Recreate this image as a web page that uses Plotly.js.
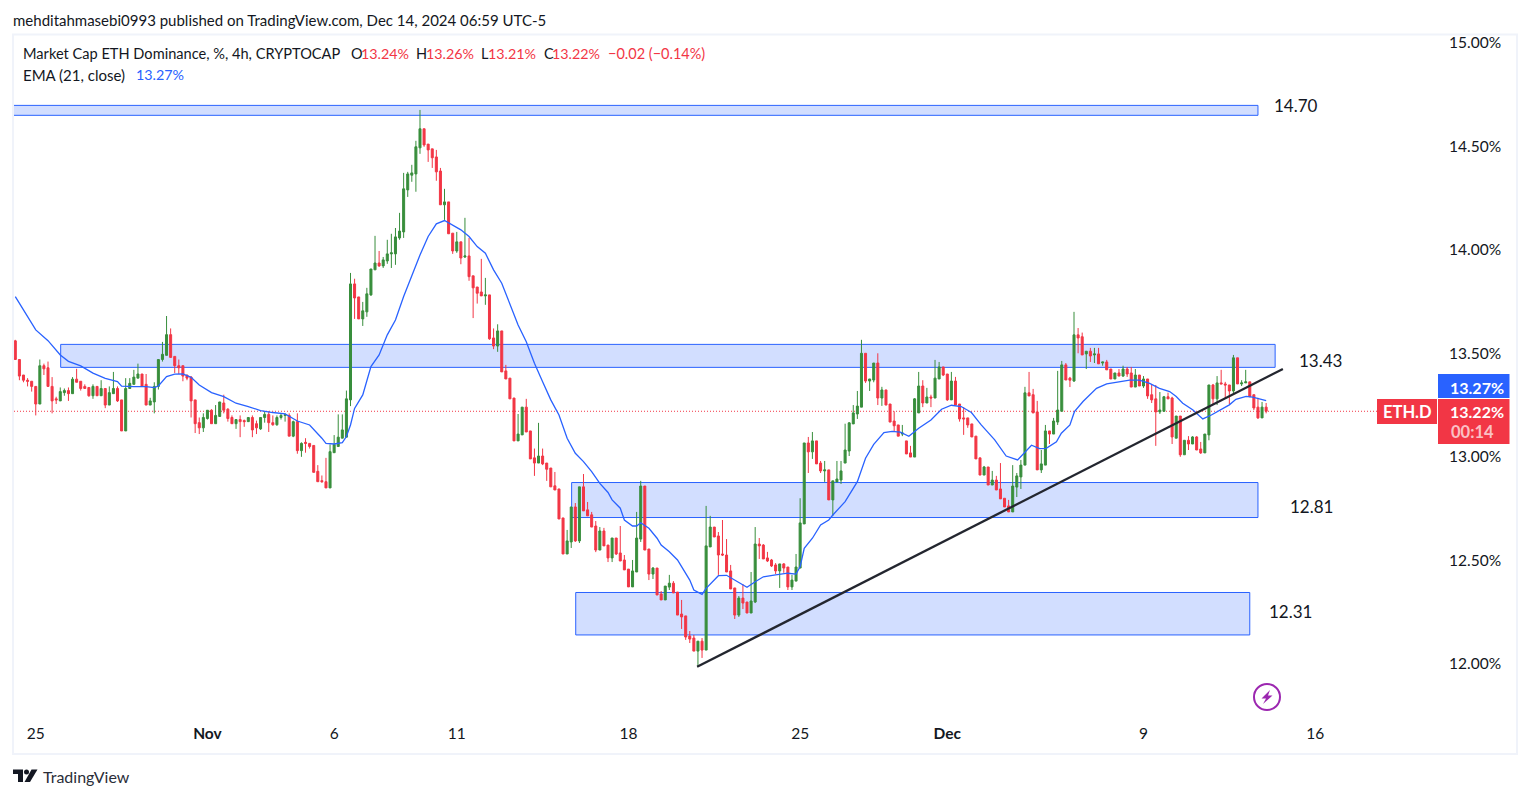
<!DOCTYPE html>
<html><head><meta charset="utf-8">
<script src="https://cdn.plot.ly/plotly-3.0.1.min.js"></script>
<style>html,body{margin:0;padding:0;background:#fff;overflow:hidden}#c{width:1530px;height:798px}</style>
</head><body><div id="c"></div>
<script>
const opens=[13.56,13.47,13.395,13.37,13.365,13.34,13.255,13.44,13.43,13.34,
13.28,13.27,13.31,13.32,13.305,13.375,13.365,13.34,13.335,13.295,
13.34,13.295,13.33,13.25,13.305,13.33,13.275,13.125,13.33,13.35,
13.38,13.40,13.35,13.25,13.265,13.34,13.47,13.49,13.59,13.485,
13.44,13.44,13.395,13.385,13.275,13.165,13.14,13.185,13.225,13.16,
13.195,13.26,13.23,13.19,13.16,13.18,13.175,13.17,13.19,13.16,
13.135,13.19,13.205,13.165,13.155,13.19,13.20,13.20,13.10,13.17,
13.03,13.07,13.065,13.055,12.93,12.885,12.88,12.85,13.02,13.05,
13.09,13.095,13.275,13.835,13.772,13.666,13.70,13.782,13.903,13.936,
13.922,13.946,13.98,13.98,14.057,14.086,14.289,14.36,14.366,14.492,
14.584,14.51,14.487,14.448,14.38,14.217,14.231,14.08,13.994,14.038,
13.965,13.97,13.874,13.82,13.796,13.777,13.782,13.574,13.535,13.608,
13.415,13.38,13.284,13.077,13.106,13.24,13.125,12.995,12.97,13.004,
12.97,12.946,12.86,12.845,12.705,12.531,12.589,12.758,12.594,12.855,
12.744,12.72,12.666,12.55,12.642,12.574,12.512,12.608,12.536,12.502,
12.458,12.372,12.444,12.603,12.859,12.555,12.434,12.463,12.338,12.309,
12.371,12.39,12.347,12.241,12.232,12.135,12.125,12.062,12.11,12.067,
12.565,12.661,12.618,12.531,12.526,12.449,12.367,12.236,12.318,12.299,
12.246,12.299,12.579,12.574,12.512,12.502,12.478,12.449,12.483,12.468,
12.372,12.40,12.463,12.676,13.067,13.024,13.077,12.97,12.932,12.937,
12.792,12.879,12.888,12.97,13.028,13.159,13.207,13.24,13.50,13.366,
13.371,13.453,13.284,13.323,13.255,13.173,13.154,13.11,13.077,13.019,
12.999,13.212,13.342,13.26,13.289,13.284,13.376,13.434,13.40,13.275,
13.366,13.255,13.188,13.188,13.159,13.10,12.995,12.912,12.951,12.864,
12.888,12.845,12.80,12.763,12.734,12.854,12.903,12.96,13.309,13.30,
13.217,12.937,12.96,13.125,13.11,13.168,13.22,13.444,13.38,13.366,
13.589,13.58,13.497,13.51,13.492,13.497,13.453,13.458,13.424,13.376,
13.405,13.39,13.424,13.405,13.337,13.395,13.342,13.376,13.30,13.28,
13.217,13.22,13.29,13.284,13.09,13.197,13.01,13.08,13.062,13.096,
13.038,13.019,13.106,13.347,13.28,13.357,13.352,13.347,13.318,13.478,
13.352,13.357,13.362,13.30,13.24,13.188,13.24];
const highs=[13.565,13.47,13.395,13.38,13.365,13.34,13.47,13.45,13.46,13.385,
13.29,13.335,13.33,13.335,13.385,13.425,13.365,13.35,13.335,13.35,
13.34,13.37,13.33,13.34,13.41,13.34,13.275,13.38,13.38,13.42,
13.45,13.40,13.40,13.285,13.36,13.47,13.555,13.68,13.62,13.485,
13.47,13.44,13.395,13.39,13.275,13.19,13.21,13.225,13.23,13.25,
13.265,13.30,13.235,13.20,13.18,13.20,13.18,13.19,13.20,13.175,
13.19,13.22,13.22,13.20,13.20,13.21,13.21,13.21,13.175,13.21,
13.07,13.09,13.065,13.055,12.96,12.91,12.995,13.06,13.105,13.205,
13.205,13.32,13.888,13.86,13.772,13.748,13.816,13.907,14.067,13.994,
13.965,14.048,14.077,14.105,14.178,14.371,14.376,14.41,14.526,14.675,
14.584,14.51,14.487,14.482,14.395,14.294,14.231,14.08,14.086,14.038,
14.154,14.057,13.874,13.82,13.956,13.864,13.782,13.62,13.64,13.608,
13.444,13.38,13.284,13.207,13.24,13.28,13.125,13.04,13.164,13.04,
12.97,12.946,12.927,12.845,12.705,12.647,12.758,12.777,12.855,12.917,
12.782,12.734,12.69,12.661,12.657,12.574,12.608,12.608,12.666,12.526,
12.458,12.502,12.734,12.884,12.859,12.555,12.468,12.463,12.352,12.376,
12.43,12.40,12.347,12.309,12.232,12.159,12.14,12.11,12.125,12.763,
12.715,12.661,12.637,12.695,12.603,12.478,12.367,12.328,12.386,12.299,
12.444,12.661,12.608,12.579,12.541,12.507,12.487,12.483,12.487,12.468,
12.43,12.531,12.80,13.067,13.096,13.12,13.077,12.98,12.98,12.937,
12.884,12.98,12.98,13.16,13.168,13.25,13.318,13.565,13.50,13.376,
13.453,13.50,13.338,13.323,13.255,13.22,13.154,13.154,13.077,13.053,
13.284,13.41,13.37,13.333,13.30,13.468,13.458,13.434,13.40,13.41,
13.386,13.255,13.24,13.188,13.159,13.10,12.995,12.956,12.951,12.932,
12.908,12.97,12.80,12.792,12.96,12.922,12.985,13.338,13.41,13.328,
13.27,13.033,13.154,13.125,13.188,13.415,13.463,13.453,13.386,13.70,
13.622,13.60,13.51,13.526,13.526,13.526,13.458,13.468,13.424,13.405,
13.424,13.44,13.434,13.434,13.424,13.395,13.39,13.376,13.352,13.347,
13.313,13.294,13.31,13.29,13.197,13.197,13.08,13.10,13.10,13.10,
13.072,13.11,13.347,13.352,13.39,13.42,13.362,13.347,13.492,13.478,
13.37,13.42,13.362,13.30,13.285,13.265,13.26];
const lows=[13.47,13.37,13.36,13.34,13.315,13.20,13.255,13.395,13.34,13.21,
13.255,13.27,13.295,13.27,13.305,13.36,13.32,13.33,13.29,13.28,
13.295,13.295,13.235,13.25,13.305,13.265,13.125,13.125,13.33,13.35,
13.38,13.34,13.25,13.25,13.21,13.325,13.46,13.49,13.48,13.405,
13.40,13.365,13.37,13.19,13.115,13.11,13.12,13.18,13.16,13.16,
13.195,13.21,13.17,13.16,13.135,13.095,13.145,13.17,13.095,13.11,
13.13,13.165,13.12,13.15,13.15,13.18,13.17,13.10,13.095,13.015,
13.00,13.02,13.04,12.925,12.88,12.875,12.85,12.85,13.02,13.05,
13.09,13.095,13.245,13.666,13.666,13.632,13.676,13.777,13.903,13.917,
13.912,13.932,13.912,13.927,14.048,14.057,14.255,14.328,14.28,14.463,
14.497,14.424,14.395,14.333,14.217,14.144,14.077,13.98,13.985,13.93,
13.96,13.85,13.67,13.74,13.777,13.734,13.565,13.52,13.507,13.41,
13.376,13.28,13.077,13.077,13.106,13.12,12.99,12.908,12.97,12.96,
12.884,12.855,12.84,12.70,12.531,12.531,12.56,12.589,12.584,12.739,
12.715,12.661,12.54,12.55,12.57,12.492,12.492,12.526,12.497,12.454,
12.372,12.372,12.444,12.589,12.55,12.405,12.41,12.333,12.309,12.309,
12.357,12.343,12.236,12.169,12.116,12.101,12.062,11.985,12.029,12.067,
12.565,12.613,12.43,12.521,12.444,12.362,12.217,12.227,12.265,12.246,
12.246,12.294,12.507,12.507,12.492,12.468,12.434,12.367,12.44,12.357,
12.357,12.40,12.463,12.676,12.922,12.99,12.966,12.922,12.879,12.792,
12.714,12.879,12.869,12.97,13.004,13.159,13.183,13.24,13.357,13.318,
13.36,13.25,13.246,13.25,13.168,13.12,13.10,13.10,13.014,12.999,
12.999,13.212,13.24,13.26,13.24,13.284,13.376,13.39,13.27,13.275,
13.25,13.17,13.106,13.14,13.096,12.99,12.912,12.912,12.864,12.864,
12.84,12.797,12.758,12.734,12.734,12.806,12.845,12.96,13.294,13.212,
12.937,12.922,12.96,13.062,13.11,13.154,13.22,13.371,13.337,13.362,
13.50,13.492,13.424,13.458,13.453,13.449,13.44,13.42,13.376,13.376,
13.39,13.386,13.386,13.337,13.337,13.342,13.333,13.28,13.26,13.053,
13.207,13.217,13.28,13.062,13.09,13.0,13.01,13.033,13.062,13.033,
13.014,13.019,13.08,13.255,13.25,13.352,13.28,13.255,13.30,13.352,
13.342,13.357,13.29,13.226,13.183,13.188,13.21];
const closes=[13.47,13.39,13.37,13.365,13.34,13.255,13.44,13.425,13.34,13.27,
13.275,13.315,13.32,13.305,13.375,13.36,13.33,13.33,13.295,13.34,
13.295,13.33,13.25,13.31,13.33,13.27,13.125,13.33,13.355,13.385,
13.40,13.34,13.25,13.27,13.34,13.47,13.495,13.59,13.48,13.44,
13.43,13.39,13.38,13.27,13.16,13.14,13.19,13.225,13.16,13.20,
13.265,13.225,13.185,13.16,13.18,13.17,13.17,13.19,13.13,13.14,
13.19,13.205,13.165,13.155,13.19,13.20,13.203,13.10,13.17,13.03,
13.065,13.065,13.05,12.925,12.88,12.88,12.85,13.025,13.06,13.095,
13.13,13.28,13.835,13.767,13.666,13.705,13.787,13.907,13.936,13.922,
13.951,13.98,13.985,14.062,14.09,14.294,14.366,14.371,14.497,14.584,
14.506,14.482,14.444,14.376,14.217,14.231,14.077,13.994,14.038,13.96,
13.97,13.87,13.816,13.79,13.777,13.782,13.57,13.535,13.608,13.41,
13.376,13.28,13.077,13.11,13.24,13.12,12.99,12.97,13.004,12.966,
12.94,12.855,12.84,12.70,12.531,12.594,12.758,12.594,12.855,12.739,
12.715,12.661,12.55,12.642,12.57,12.512,12.608,12.531,12.497,12.454,
12.372,12.449,12.608,12.859,12.55,12.434,12.463,12.333,12.309,12.376,
12.39,12.343,12.236,12.227,12.13,12.12,12.062,12.11,12.067,12.57,
12.661,12.613,12.526,12.526,12.444,12.362,12.236,12.318,12.294,12.246,
12.304,12.579,12.57,12.507,12.497,12.473,12.449,12.483,12.463,12.372,
12.405,12.468,12.681,13.067,13.024,13.077,12.966,12.932,12.937,12.792,
12.884,12.893,12.932,13.033,13.164,13.212,13.245,13.50,13.366,13.376,
13.453,13.284,13.323,13.25,13.168,13.15,13.10,13.115,13.014,12.999,
13.28,13.342,13.26,13.289,13.284,13.38,13.434,13.395,13.275,13.366,
13.25,13.183,13.183,13.154,13.096,12.99,12.912,12.951,12.864,12.888,
12.84,12.797,12.758,12.734,12.859,12.908,12.96,13.309,13.294,13.212,
12.937,12.966,13.125,13.11,13.173,13.226,13.444,13.371,13.37,13.589,
13.574,13.492,13.51,13.487,13.497,13.449,13.458,13.42,13.376,13.405,
13.39,13.424,13.40,13.337,13.395,13.342,13.376,13.294,13.275,13.217,
13.226,13.29,13.28,13.096,13.197,13.01,13.08,13.062,13.096,13.033,
13.019,13.11,13.347,13.28,13.357,13.352,13.347,13.318,13.478,13.352,
13.357,13.362,13.29,13.236,13.188,13.24,13.22];

const emaBars=[0,2,5,8,11,13,16,19,22,25,26,29,32,34,35,37,39,41,43,45,48,51,54,57,60,63,66,69,72,75,76,78,80,81,82,83,85,87,89,91,93,95,97,99,101,103,105,107,109,111,113,115,117,119,121,123,125,127,129,131,133,135,137,139,141,143,145,146,148,149,151,152,153,155,157,158,160,162,163,165,166,168,169,171,172,174,176,178,179,181,183,186,189,191,192,193,195,197,199,200,203,206,208,210,212.5,214.5,216.5,218.6,221,224,226.6,229,231.4,233.9,236.3,239.6,242.4,245.2,247,248.6,250.6,252.2,254.7,255.9,258,259.1,261.2,264.5,267,270.1,272.6,275,277.5,279.9,282.4,284,285.6,288.1,290.5,292.6,294.6,297,298.6,301.1,302.7,306];
const emaValues=[13.774,13.709,13.613,13.561,13.492,13.461,13.439,13.404,13.379,13.363,13.341,13.339,13.339,13.334,13.342,13.387,13.399,13.40,13.384,13.347,13.31,13.291,13.259,13.243,13.223,13.214,13.207,13.173,13.154,13.09,13.065,13.062,13.069,13.098,13.154,13.234,13.299,13.436,13.492,13.589,13.661,13.774,13.878,13.975,14.064,14.125,14.141,14.12,14.096,14.064,14.015,13.983,13.903,13.838,13.742,13.637,13.556,13.452,13.363,13.275,13.202,13.09,13.017,12.977,12.929,12.872,12.828,12.792,12.752,12.695,12.666,12.666,12.682,12.655,12.607,12.574,12.542,12.502,12.47,12.405,12.357,12.336,12.365,12.405,12.426,12.428,12.405,12.381,12.37,12.397,12.421,12.43,12.438,12.434,12.47,12.558,12.607,12.671,12.695,12.719,12.784,12.88,12.993,13.06,13.117,13.123,13.119,13.099,13.138,13.178,13.23,13.249,13.243,13.214,13.154,13.082,13.004,12.985,13.025,13.056,13.04,13.041,13.073,13.114,13.154,13.218,13.267,13.331,13.352,13.363,13.37,13.37,13.355,13.331,13.315,13.291,13.259,13.226,13.183,13.202,13.226,13.251,13.278,13.292,13.288,13.272];

const tickBars=[5,47,78,108,150,192,228,276,318];
const tickLabels=['25','<b>Nov</b>','6','11','18','25','<b>Dec</b>','9','16'];
const priceTicks=[12,12.5,13,13.5,14,14.5,15];
const priceLabels=['12.00%','12.50%','13.00%','13.50%','14.00%','14.50%','15.00%'];
const zoneBars=[[-1,304],[11.1,308.2],[136.1,304],[137.1,302]];
const zoneLevels=[[14.697,14.649],[13.543,13.432],[12.876,12.707],[12.345,12.14]];
const trendBars=[166.8,310.1];
const trendValues=[11.986,13.424];
const lastClose=13.22;

const L=14,R=1437,T=36,B=718;
const FONT='Lato, "Noto Sans", sans-serif';
const px=x=>(x-L)/(R-L), py=y=>(B-y)/(B-T);
const DARK='#131722',RED='#f23645',GREEN='#388e3c',BLUE='#2962ff';
const bars=opens.map((_,i)=>i);

function txt(x,y,text,o={}){return Object.assign({xref:'paper',yref:'paper',x:px(x),y:py(y),text,showarrow:false,xanchor:'left',yanchor:'middle',
  font:{family:FONT,size:14,color:DARK},borderpad:0},o);}
function rect(x0,y0,x1,y1,o={}){return Object.assign({type:'rect',xref:'paper',yref:'paper',x0:px(x0),x1:px(x1),y0:py(y0),y1:py(y1),line:{width:0},layer:'above'},o);}
function poly(pts,color){return {type:'path',xref:'paper',yref:'paper',layer:'above',fillcolor:color,line:{width:0},
  path:'M'+pts.map(p=>px(p[0])+','+py(p[1])).join(' L')+' Z'};}

const shapes=[
 rect(13,34.5,1517,754,{line:{color:'#f0f3fa',width:2},fillcolor:'rgba(0,0,0,0)',layer:'below'}),
 {type:'line',xref:'paper',yref:'y',x0:0,x1:1,y0:lastClose,y1:lastClose,line:{color:RED,width:1,dash:'1px,2px'},layer:'below'},
 ...zoneBars.map((b,i)=>({type:'rect',xref:'x',yref:'y',x0:b[0],x1:b[1],y0:zoneLevels[i][1],y1:zoneLevels[i][0],
   fillcolor:'rgba(41,98,255,0.21)',line:{color:BLUE,width:1},layer:'below'})),
 {type:'line',xref:'x',yref:'y',x0:trendBars[0],x1:trendBars[1],y0:trendValues[0],y1:trendValues[1],line:{color:'#23262f',width:2.3},layer:'above'},
 rect(1377,399,1437,424,{fillcolor:RED}),
 rect(1438,374,1509.5,398,{fillcolor:BLUE}),
 rect(1438,399,1509.5,444,{fillcolor:RED}),
 {type:'circle',xref:'paper',yref:'paper',x0:px(1254),x1:px(1280),y0:py(684),y1:py(710),line:{color:'#9c27b0',width:2},fillcolor:'rgba(0,0,0,0)',layer:'above'},
 poly([[1270,690],[1261.5,698.5],[1266,698.5],[1263,704],[1272.5,695.5],[1268,695.5]],'#9c27b0'),
 poly([[13,769.5],[23,769.5],[23,782],[18,782],[18,774],[13,774]],DARK),
 poly([[31.5,769.5],[37.5,769.5],[30,782],[24.5,782]],DARK),
 {type:'circle',xref:'paper',yref:'paper',x0:px(24),x1:px(29),y0:py(769.5),y1:py(774.5),fillcolor:DARK,line:{width:0},layer:'above'}
];

const annotations=[
 txt(12,20,'mehditahmasebi0993 published on TradingView.com, Dec 14, 2024 06:59 UTC-5',{font:{family:FONT,size:15,color:DARK}}),
 txt(22,54,'Market Cap ETH Dominance, %, 4h, CRYPTOCAP',{font:{family:FONT,size:14.6,color:DARK}}),
 txt(350,54,'O',{font:{family:FONT,size:14.5,color:DARK}}), txt(359.5,54,'13.24%',{font:{family:FONT,size:14.3,color:RED}}),
 txt(414.5,54,'H',{font:{family:FONT,size:14.5,color:DARK}}), txt(425,54,'13.26%',{font:{family:FONT,size:14.3,color:RED}}),
 txt(479.5,54,'L',{font:{family:FONT,size:14.5,color:DARK}}), txt(487,54,'13.21%',{font:{family:FONT,size:14.3,color:RED}}),
 txt(542.5,54,'C',{font:{family:FONT,size:14.5,color:DARK}}), txt(551,54,'13.22%',{font:{family:FONT,size:14.3,color:RED}}),
 txt(607,54,'−0.02 (−0.14%)',{font:{family:FONT,size:14.5,color:RED}}),
 txt(22,75,'EMA (21, close)',{font:{family:FONT,size:15,color:DARK}}),
 txt(134.5,75,'13.27%',{font:{family:FONT,size:14.3,color:BLUE}}),
 txt(1296,105.5,'14.70',{xanchor:'center',font:{family:FONT,size:17,color:DARK}}),
 txt(1320,360.5,'13.43',{xanchor:'center',font:{family:FONT,size:17,color:DARK}}),
 txt(1311,506.5,'12.81',{xanchor:'center',font:{family:FONT,size:17,color:DARK}}),
 txt(1290,611.5,'12.31',{xanchor:'center',font:{family:FONT,size:17,color:DARK}}),
 txt(1407.5,412,'<b>ETH.D</b>',{xanchor:'center',font:{family:FONT,size:16.5,color:'#fff'}}),
 txt(1505,387,'<b>13.27%</b>',{xanchor:'right',font:{family:FONT,size:16,color:'#fff'}}),
 txt(1505,412,'<b>13.22%</b>',{xanchor:'right',font:{family:FONT,size:16,color:'#fff'}}),
 txt(1450,432,'<b>00:14</b>',{font:{family:FONT,size:16.5,color:'rgba(255,255,255,0.7)'}}),
 txt(42,776,'TradingView',{font:{family:FONT,size:16,color:'#2a2e39'}})
];

const traces=[
 {type:'candlestick',x:bars,open:opens,high:highs,low:lows,close:closes,whiskerwidth:0,hoverinfo:'skip',
  increasing:{line:{color:GREEN,width:1},fillcolor:GREEN},decreasing:{line:{color:RED,width:1},fillcolor:RED}},
 {type:'scatter',mode:'lines',x:emaBars,y:emaValues,line:{color:BLUE,width:1.3},hoverinfo:'skip'}
];

const layout={width:1530,height:798,margin:{l:L,r:1530-R,t:T,b:798-B,pad:0},paper_bgcolor:'#fff',plot_bgcolor:'rgba(0,0,0,0)',showlegend:false,hovermode:false,
 font:{family:FONT,color:DARK},
 xaxis:{range:[-0.32,347.8],rangeslider:{visible:false},showgrid:false,zeroline:false,showline:false,tickmode:'array',tickvals:tickBars,ticktext:tickLabels,
  ticks:'outside',ticklen:1,tickcolor:'rgba(0,0,0,0)',tickangle:0,tickfont:{family:FONT,size:15.5,color:DARK}},
 yaxis:{side:'right',range:[11.739,15.032],showgrid:false,zeroline:false,showline:false,tickmode:'array',tickvals:priceTicks,ticktext:priceLabels,
  ticks:'outside',ticklen:8,tickcolor:'rgba(0,0,0,0)',tickfont:{family:FONT,size:15.5,color:DARK}},
 shapes,annotations};
Plotly.newPlot('c',traces,layout,{displayModeBar:false,staticPlot:true});
</script></body></html>
